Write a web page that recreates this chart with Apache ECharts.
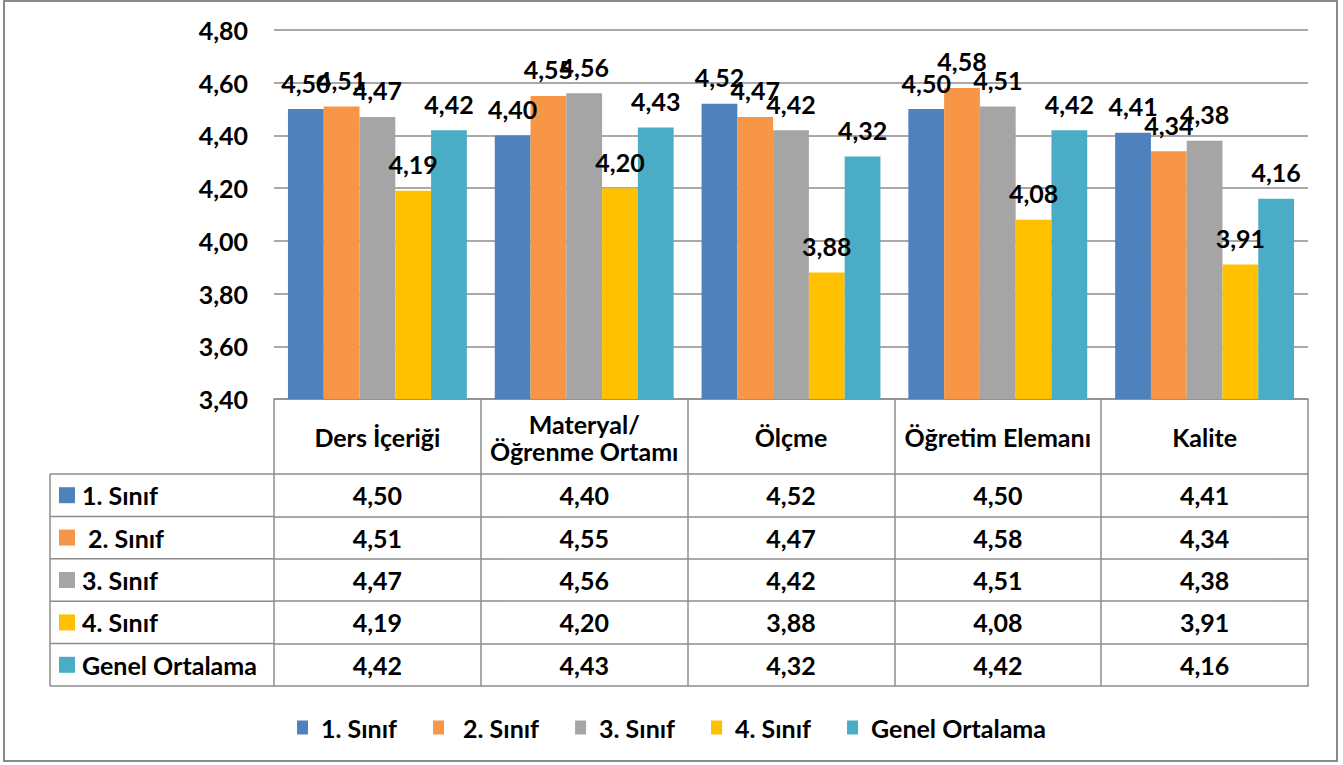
<!DOCTYPE html>
<html>
<head>
<meta charset="utf-8">
<script src="https://cdn.jsdelivr.net/npm/echarts@6/dist/echarts.min.js"></script>
<style>
html, body { margin: 0; padding: 0; background: #fff; }
#main { width: 1343px; height: 765px; }
</style>
</head>
<body>
<div id="main"></div>
<script>
// kategoriler ve seriler
var categories = ['Ders İçeriği', 'Materyal/\nÖğrenme Ortamı', 'Ölçme', 'Öğretim Elemanı', 'Kalite'];
var seriesNames = ['1. Sınıf', ' 2. Sınıf', '3. Sınıf', '4. Sınıf', 'Genel Ortalama'];
var sinif1 = [4.50, 4.40, 4.52, 4.50, 4.41];
var sinif2 = [4.51, 4.55, 4.47, 4.58, 4.34];
var sinif3 = [4.47, 4.56, 4.42, 4.51, 4.38];
var sinif4 = [4.19, 4.20, 3.88, 4.08, 3.91];
var genel = [4.42, 4.43, 4.32, 4.42, 4.16];
var yMin = 3.4, yMax = 4.8, yStep = 0.2;

var rows = [sinif1, sinif2, sinif3, sinif4, genel];
var colors = ['#4F81BD', '#F79646', '#A5A5A5', '#FFC000', '#4BACC6'];
var font = 'Lato, "Open Sans", sans-serif';
var lineColor = '#8c8c8c';

// yerleşim
var gridLeft = 274, gridRight = 35, gridTop = 30, gridBottom = 366;
var axisY = 765 - gridBottom;
var headerH = 75, rowH = 42.4, tableLeft = 50;

function fmt(v) {
    return v.toFixed(2).replace('.', ',');
}

var textBase = { fontFamily: font, fontWeight: 'bold', fontSize: 25, color: '#000' };

var xAxes = [{
    type: 'category',
    data: categories,
    position: 'bottom',
    axisLine: { show: true, lineStyle: { color: lineColor, width: 1.5 } },
    axisTick: { show: true, interval: 0, length: headerH, lineStyle: { color: lineColor, width: 1.5 } },
    axisLabel: Object.assign({ interval: 0, margin: 38, verticalAlign: 'middle', lineHeight: 27 }, textBase)
}];

rows.forEach(function (row, i) {
    xAxes.push({
        type: 'category',
        data: categories,
        position: 'bottom',
        offset: headerH + rowH * i,
        axisLine: { show: true, lineStyle: { color: lineColor, width: 1.5 } },
        axisTick: { show: true, interval: 0, length: rowH, lineStyle: { color: lineColor, width: 1.5 } },
        axisLabel: Object.assign({
            interval: 0, margin: rowH / 2, verticalAlign: 'middle',
            formatter: function (v, idx) { return fmt(row[idx]); }
        }, textBase)
    });
});
// tablonun alt çizgisi
xAxes.push({
    type: 'category',
    data: categories,
    position: 'bottom',
    offset: headerH + rowH * rows.length,
    axisLine: { show: true, lineStyle: { color: lineColor, width: 1.5 } },
    axisTick: { show: false },
    axisLabel: { show: false }
});

var series = rows.map(function (row, i) {
    return {
        name: seriesNames[i],
        type: 'bar',
        xAxisIndex: 0,
        data: row,
        barGap: '0%',
        barCategoryGap: '13.5%',
        itemStyle: { color: colors[i] },
        label: Object.assign({
            show: true, position: 'top', distance: 14,
            formatter: function (p) { return fmt(p.value); }
        }, textBase)
    };
});

// sol sütun: seri adları
var graphics = [{
    type: 'rect',
    shape: { x: 4, y: 1, width: 1333, height: 760 },
    style: { fill: 'none', stroke: '#8a8a8a', lineWidth: 2 },
    z: 100
}, {
    type: 'line',
    shape: { x1: tableLeft, y1: axisY + headerH, x2: tableLeft, y2: axisY + headerH + rowH * rows.length },
    style: { stroke: lineColor, lineWidth: 1.5 }
}];
seriesNames.forEach(function (name, i) {
    var top = axisY + headerH + rowH * i;
    graphics.push({
        type: 'line',
        shape: { x1: tableLeft, y1: top, x2: gridLeft, y2: top },
        style: { stroke: lineColor, lineWidth: 1.5 }
    });
    graphics.push({
        type: 'rect',
        shape: { x: 59, y: top + rowH / 2 - 8, width: 16, height: 16 },
        style: { fill: colors[i] }
    });
    graphics.push({
        type: 'text',
        x: 82, y: top + rowH / 2,
        style: { text: name, font: 'bold 25px ' + font, fill: '#000', verticalAlign: 'middle', align: 'left' }
    });
});
graphics.push({
    type: 'line',
    shape: { x1: tableLeft, y1: axisY + headerH + rowH * rows.length, x2: gridLeft, y2: axisY + headerH + rowH * rows.length },
    style: { stroke: lineColor, lineWidth: 1.5 }
});

var chart = echarts.init(document.getElementById('main'), null, { renderer: 'svg' });
chart.setOption({
    animation: false,
    color: colors,
    textStyle: { fontFamily: font },
    grid: { left: gridLeft, right: gridRight, top: gridTop, bottom: gridBottom },
    legend: {
        data: seriesNames,
        left: 'center',
        top: 710,
        itemWidth: 11,
        itemHeight: 14,
        itemGap: 36,
        icon: 'rect',
        textStyle: Object.assign({ padding: [0, 0, 0, 8] }, textBase)
    },
    xAxis: xAxes,
    yAxis: {
        type: 'value',
        min: yMin,
        max: yMax,
        interval: yStep,
        axisLine: { show: false },
        axisTick: { show: false },
        splitLine: { lineStyle: { color: lineColor, width: 1.5 } },
        axisLabel: Object.assign({ margin: 26, formatter: function (v) { return fmt(v); } }, textBase)
    },
    series: series,
    graphic: graphics
});
</script>
</body>
</html>
